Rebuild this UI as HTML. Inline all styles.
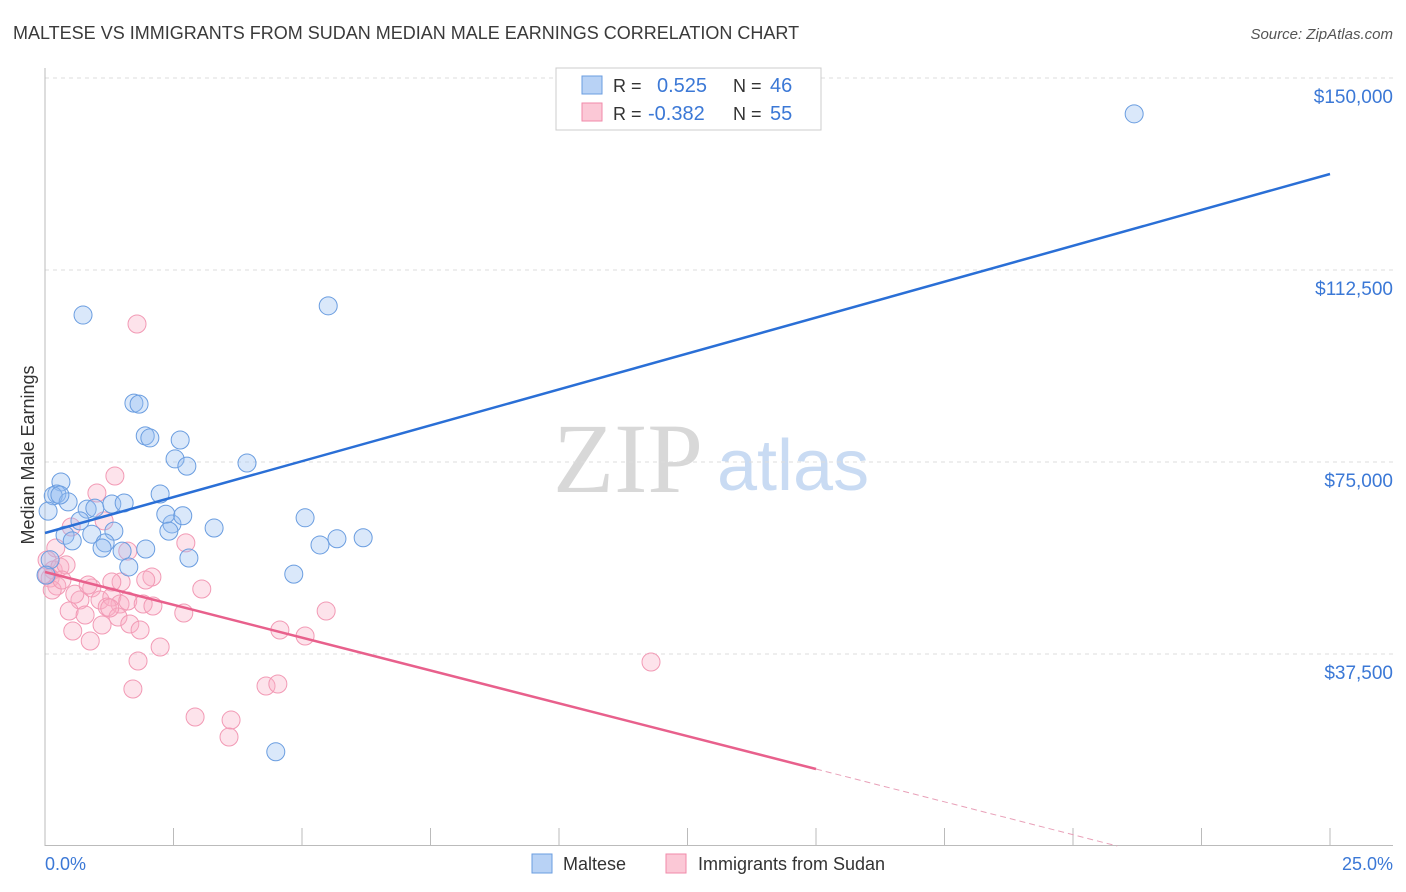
<!DOCTYPE html>
<html><head><meta charset="utf-8"><style>
body{margin:0;background:#fff;font-family:"Liberation Sans",sans-serif}
svg{display:block}
</style></head><body>
<svg id="chart" width="1406" height="892">
<text x="13" y="39" font-size="18" fill="#3a3a3a">MALTESE VS IMMIGRANTS FROM SUDAN MEDIAN MALE EARNINGS CORRELATION CHART</text>
<text x="1393" y="39" font-size="15" fill="#555" font-style="italic" text-anchor="end">Source: ZipAtlas.com</text>
<g>
<text x="553" y="492" font-family="Liberation Serif,serif" font-size="100" fill="#d8d8d8">ZIP</text>
<text x="717" y="490" font-size="72" fill="#c9dbf3">atlas</text>
</g>
<g id="grid"></g>
<line x1="45" y1="68" x2="45" y2="846" stroke="#bbb"/>
<line x1="45" y1="845.5" x2="1393" y2="845.5" stroke="#bbb"/>
<text x="34" y="455" font-size="18" fill="#333" text-anchor="middle" transform="rotate(-90 34 455)">Median Male Earnings</text>
<text x="45" y="870" font-size="18" fill="#3b78d6">0.0%</text>
<text x="1393" y="870" font-size="18" fill="#3b78d6" text-anchor="end">25.0%</text>
<g id="points"></g>
<g id="lines"></g>
<g>
<rect x="556" y="68" width="265" height="62" fill="#fff" stroke="#ccc"/>
<rect x="582" y="76" width="20" height="18" fill="#b8d2f5" stroke="#6a9de0"/>
<text x="613" y="92" font-size="18" fill="#333">R =</text><text x="657" y="92" font-size="20" fill="#3b78d6">0.525</text>
<text x="733" y="92" font-size="18" fill="#333">N =</text><text x="770" y="92" font-size="20" fill="#3b78d6">46</text>
<rect x="582" y="103" width="20" height="18" fill="#fbc8d6" stroke="#f08aaa"/>
<text x="613" y="120" font-size="18" fill="#333">R =</text><text x="648" y="120" font-size="20" fill="#3b78d6">-0.382</text>
<text x="733" y="120" font-size="18" fill="#333">N =</text><text x="770" y="120" font-size="20" fill="#3b78d6">55</text>
</g>
<g>
<rect x="532" y="854" width="20" height="19" fill="#b8d2f5" stroke="#6a9de0"/>
<text x="563" y="870" font-size="18" fill="#333">Maltese</text>
<rect x="666" y="854" width="20" height="19" fill="#fbc8d6" stroke="#f08aaa"/>
<text x="698" y="870" font-size="18" fill="#333">Immigrants from Sudan</text>
</g>
</svg>
<script>
const yTicks=[37500,75000,112500,150000];
const yTickLabels=["$37,500","$75,000","$112,500","$150,000"];
const xTicks=[0,2.5,5,7.5,10,12.5,15,17.5,20,22.5,25];
const malteseX=[21.19,0.74,5.51,1.73,1.83,1.95,2.04,2.63,2.53,2.76,3.93,0.31,0.23,0.16,0.45,2.24,0.06,0.82,0.97,1.30,1.54,0.68,2.47,2.35,2.68,3.29,1.34,5.06,0.91,0.39,0.53,1.17,1.11,1.96,2.41,1.50,1.63,2.80,5.35,5.68,6.19,4.84,4.49,0.10,0.02,0.29];
const malteseY=[143000,103700,105500,86500,86300,80100,79700,79300,75600,74200,74800,71100,68750,68400,67200,68750,65400,65800,66000,66800,67000,63500,62900,64800,64500,62100,61500,64100,60900,60700,59600,59200,58200,58000,61500,57600,54500,56250,58800,60000,60200,53100,18400,55900,52900,68550];
const sudanX=[1.79,1.36,1.01,0.51,1.15,2.74,1.61,2.08,1.96,1.48,1.30,0.21,0.04,0.16,0.29,0.41,0.10,0.23,0.14,0.68,0.58,0.91,1.07,0.84,1.30,1.46,1.61,1.91,2.10,1.21,1.42,0.47,0.78,1.11,1.65,1.85,0.54,0.88,2.24,1.81,3.05,2.70,4.57,5.06,5.47,1.71,2.92,3.62,3.58,4.30,4.53,11.79,1.26,0.04,0.33];
const sudanY=[101950,72270,68950,62300,63500,59200,57600,52540,51950,51560,51560,58200,55860,53900,54500,54900,52340,50780,50000,48050,49200,50400,48050,50980,48630,47270,47850,47270,46880,46680,44730,45900,45120,43160,43360,42190,41990,40040,38870,36130,50200,45510,42190,41020,45900,30660,25200,24600,21290,31250,31640,35940,46480,52930,51950];
const blueTrend=[[0,61130],[25,131250]];
const pinkTrendSolid=[[0,53520],[15,15040]];
const pinkTrendDash=[[15,15040],[20.86,0]];
const NS="http://www.w3.org/2000/svg";
const sx=p=>45+p*51.4;
const sy=v=>846-v*192/37500;
function mk(tag,attrs,parent){const e=document.createElementNS(NS,tag);for(const k in attrs)e.setAttribute(k,attrs[k]);parent.appendChild(e);return e;}
const grid=document.getElementById('grid');
yTicks.forEach((t,i)=>{
  const l=mk('line',{x1:45,x2:1393,y1:sy(t),y2:sy(t),stroke:'#ddd','stroke-dasharray':'4,4'},grid);
  
  
  const tx=mk('text',{x:1393,y:sy(t)+25,'font-size':19,fill:'#3b78d6','text-anchor':'end'},grid);
  tx.textContent=yTickLabels[i];
  
  
});
mk('line',{x1:45,x2:1393,y1:78,y2:78,stroke:'#ddd','stroke-dasharray':'4,4'},grid);
xTicks.forEach(t=>{
  const l=mk('line',{x1:sx(t),x2:sx(t),y1:828,y2:846,stroke:'#bbb'},grid);
  
  
});
const pts=document.getElementById('points');
sudanX.forEach((x,i)=>{
  const c=mk('circle',{cx:sx(x),cy:sy(sudanY[i]),r:9,fill:'rgba(248,175,198,0.35)',stroke:'#f29ab5','stroke-width':1},pts);
  
  
});
malteseX.forEach((x,i)=>{
  const c=mk('circle',{cx:sx(x),cy:sy(malteseY[i]),r:9,fill:'rgba(150,190,240,0.35)',stroke:'#6a9de0','stroke-width':1},pts);
  
  
});
const ln=document.getElementById('lines');
const b=mk('line',{x1:sx(blueTrend[0][0]),y1:sy(blueTrend[0][1]),x2:sx(blueTrend[1][0]),y2:sy(blueTrend[1][1]),stroke:'#2a6fd6','stroke-width':2.5},ln);


const p=mk('line',{x1:sx(pinkTrendSolid[0][0]),y1:sy(pinkTrendSolid[0][1]),x2:sx(pinkTrendSolid[1][0]),y2:sy(pinkTrendSolid[1][1]),stroke:'#e8608c','stroke-width':2.5},ln);


const pd=mk('line',{x1:sx(pinkTrendDash[0][0]),y1:sy(pinkTrendDash[0][1]),x2:sx(pinkTrendDash[1][0]),y2:sy(pinkTrendDash[1][1]),stroke:'#e8a0b8','stroke-width':1,'stroke-dasharray':'6,4'},ln);


</script>
</body></html>
